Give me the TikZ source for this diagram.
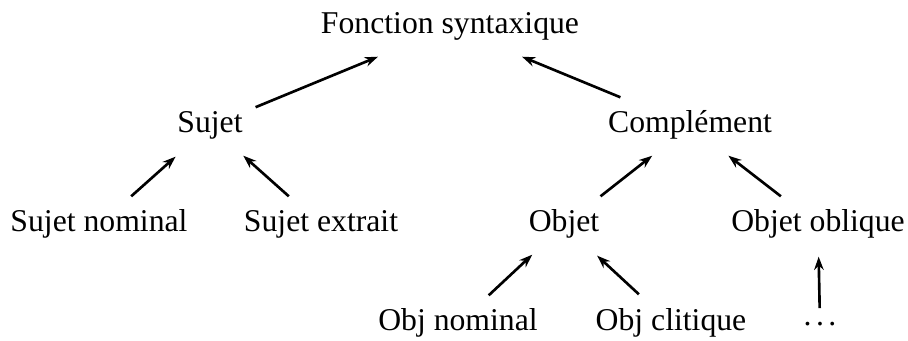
\documentclass[tikz,border=0pt]{standalone}
\usepackage{fontspec}
\setmainfont{Liberation Serif}
\usetikzlibrary{arrows.meta,calc}

\begin{document}
\begin{tikzpicture}[x=0.3785pt, y=-0.3785pt, >={Stealth[length=5pt,width=3.6pt]},
  fn/.style={inner sep=0pt, text height=0.75em, text depth=0.25em, font=\fontsize{12}{14}\selectfont},
  up/.style={->, line width=1pt}]
\useasboundingbox (0,0) rectangle (908,340);
\node[fn] (fonc) at (450,27) {Fonction syntaxique};
\node[fn] (sujet) at (210,126) {Sujet};
\node[fn] (compl) at (690,126) {Complément};
\node[fn] (snom) at (99,225) {Sujet nominal};
\node[fn] (sext) at (321,225) {Sujet extrait};
\node[fn] (objet) at (564,225) {Objet};
\node[fn] (oobl) at (818,225) {Objet oblique};
\node[fn] (onom) at (458,324) {Obj nominal};
\node[fn] (ocli) at (671,324) {Obj clitique};
\node[fn] (etc) at (820,324) {\raisebox{0.17em}{.\kern0.14em.\kern0.14em.}};
\draw[up] ($(sujet)!0.19!(fonc)$) -- ($(sujet)!0.70!(fonc)$);
\draw[up] ($(compl)!0.29!(fonc)$) -- ($(compl)!0.70!(fonc)$);
\draw[up] ($(snom)!0.29!(sujet)$) -- ($(snom)!0.69!(sujet)$);
\draw[up] ($(sext)!0.29!(sujet)$) -- ($(sext)!0.70!(sujet)$);
\draw[up] ($(objet)!0.29!(compl)$) -- ($(objet)!0.70!(compl)$);
\draw[up] ($(oobl)!0.29!(compl)$) -- ($(oobl)!0.70!(compl)$);
\draw[up] ($(onom)!0.29!(objet)$) -- ($(onom)!0.70!(objet)$);
\draw[up] ($(ocli)!0.30!(objet)$) -- ($(ocli)!0.69!(objet)$);
\draw[up] ($(etc)!0.16!(oobl)$) -- ($(etc)!0.68!(oobl)$);
\end{tikzpicture}
\end{document}
